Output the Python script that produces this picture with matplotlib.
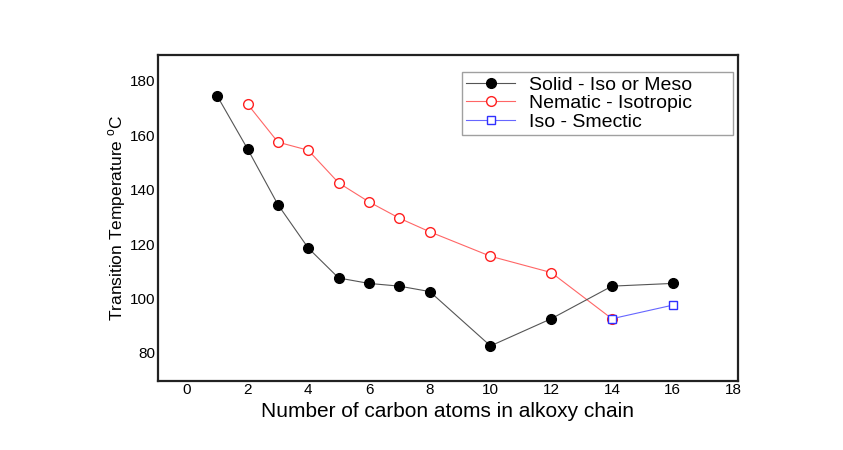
import numpy as np
import matplotlib.pyplot as plt

plt.rcParams['font.family'] = ['Liberation Sans', 'DejaVu Sans']

# carbon atoms in alkoxy chain vs transition temperature (C)
solid_x = [1, 2, 3, 4, 5, 6, 7, 8, 10, 12, 14, 16]
solid_t = [174.5, 155, 134.5, 118.5, 107.5, 105.5, 104.5, 102.5, 82.5, 92.5, 104.5, 105.5]
nem_x = [2, 3, 4, 5, 6, 7, 8, 10, 12, 14]
nem_t = [171.5, 157.5, 154.5, 142.5, 135.5, 129.5, 124.5, 115.5, 109.5, 92.5]
smec_x = [14, 16]
smec_t = [92.5, 97.5]

fig = plt.figure(figsize=(8.43, 4.5), dpi=100)
ax = fig.add_axes([0.1874, 0.154, 0.688, 0.724])

ax.plot(solid_x, solid_t, '-', color='#555555', lw=0.8, marker='o', ms=7,
        mfc='black', mec='black', label='Solid - Iso or Meso', zorder=3)
ax.plot(nem_x, nem_t, '-', color='#ff6666', lw=0.8, marker='o', ms=7,
        mfc='white', mec='#ff2020', mew=1.0, label='Nematic - Isotropic', zorder=2)
ax.plot(smec_x, smec_t, '-', color='#6666ff', lw=0.8, marker='s', ms=6,
        mfc='white', mec='#3030ff', mew=1.0, label='Iso - Smectic', zorder=4)

ax.set_xlim(-0.95, 18.15)
ax.set_ylim(69.7, 189.6)
ax.set_xticks(np.arange(0, 19, 2))
ax.set_yticks(np.arange(80, 181, 20))
ax.tick_params(length=0, labelsize=11, pad=2)
for s in ax.spines.values():
    s.set_linewidth(1.6)
    s.set_color('#222222')

ax.set_xlabel('Number of carbon atoms in alkoxy chain', fontsize=15, labelpad=3)
ax.set_ylabel('Transition Temperature $^{\\mathregular{o}}$C', fontsize=12.5, labelpad=1)

leg = ax.legend(loc='upper left', bbox_to_anchor=(0.524, 0.0, 0.467, 0.9475),
                mode='expand', fontsize=14,
                frameon=True, fancybox=False, borderpad=0.2, labelspacing=0.05,
                handlelength=2.55, handletextpad=0.7, borderaxespad=0)
leg.get_frame().set_edgecolor('#888888')
leg.get_frame().set_linewidth(1.0)

fig.savefig('out.png', dpi=100)
